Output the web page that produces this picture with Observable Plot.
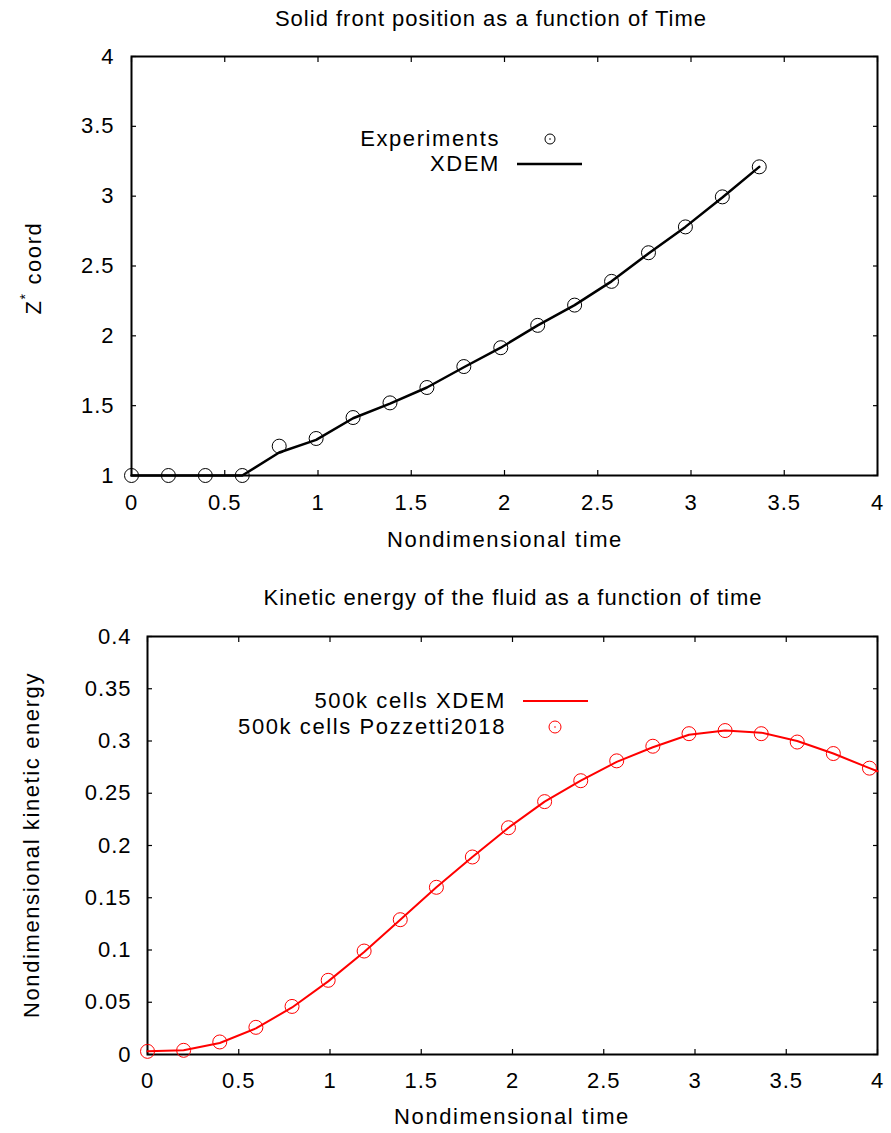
<!DOCTYPE html>
<html>
<head>
<meta charset="utf-8">
<script src="https://cdn.jsdelivr.net/npm/d3@7"></script>
<script src="https://cdn.jsdelivr.net/npm/@observablehq/plot@0.6"></script>
<style>
  html, body { margin: 0; padding: 0; background: #fff; }
  #wrap { position: relative; width: 891px; height: 1133px; font-family: "Liberation Sans", Arial, sans-serif; color: #000; }
  .t, .r, .lg { position: absolute; font-size: 22px; letter-spacing: 1.6px; line-height: 1; white-space: nowrap; }
  .t { transform: translate(-50%, -50%); }
  .t.title { letter-spacing: 1px; }
  .r { transform: translate(-50%, -50%) rotate(-90deg); }
  .lg { transform: translate(-100%, -50%); }
  svg.ov { position: absolute; left: 0; top: 0; overflow: visible; }
  #topPanel, #botPanel { position: absolute; left: 0; }
  #topPanel { top: 0; } #botPanel { top: 566px; }
  svg text { letter-spacing: 1px; }
</style>
</head>
<body>
<div id="wrap">
  <div id="topPanel"></div>
  <div id="botPanel"></div>
</div>
<script>
// ---- Top panel data ----
const expTime = [0, 0.198, 0.396, 0.594, 0.792, 0.990, 1.188, 1.386, 1.584, 1.782, 1.980, 2.178, 2.376, 2.574, 2.772, 2.970, 3.168, 3.366];
const expZ    = [1, 1, 1, 1, 1.21, 1.265, 1.415, 1.52, 1.63, 1.78, 1.915, 2.075, 2.22, 2.39, 2.595, 2.78, 2.995, 3.21];
const xdemTime = [0, 0.198, 0.396, 0.594, 0.792, 0.990, 1.188, 1.386, 1.584, 1.782, 1.980, 2.178, 2.376, 2.574, 2.772, 2.970, 3.168, 3.366];
const xdemZ    = [1, 1, 1, 1, 1.165, 1.255, 1.41, 1.515, 1.63, 1.775, 1.915, 2.075, 2.22, 2.39, 2.59, 2.78, 2.99, 3.21];

// ---- Bottom panel data ----
const pozTime = [0, 0.198, 0.396, 0.594, 0.792, 0.990, 1.187, 1.385, 1.583, 1.780, 1.978, 2.176, 2.374, 2.571, 2.769, 2.967, 3.165, 3.363, 3.560, 3.758, 3.956];
const pozE    = [0.003, 0.004, 0.012, 0.026, 0.046, 0.071, 0.099, 0.129, 0.160, 0.189, 0.217, 0.242, 0.262, 0.281, 0.295, 0.307, 0.310, 0.307, 0.299, 0.288, 0.274];
const xdemKTime = [0, 0.198, 0.396, 0.594, 0.792, 0.990, 1.187, 1.385, 1.583, 1.780, 1.978, 2.176, 2.374, 2.571, 2.769, 2.967, 3.165, 3.363, 3.560, 3.758, 3.956, 4.0];
const xdemKE    = [0.003, 0.004, 0.011, 0.025, 0.045, 0.070, 0.098, 0.129, 0.160, 0.189, 0.217, 0.242, 0.262, 0.280, 0.294, 0.306, 0.310, 0.308, 0.300, 0.288, 0.274, 0.271];

// ---- Ticks ----
const xTicks = [0, 0.5, 1, 1.5, 2, 2.5, 3, 3.5, 4];
const xTickLabels = ["0", "0.5", "1", "1.5", "2", "2.5", "3", "3.5", "4"];
const zTicks = [1, 1.5, 2, 2.5, 3, 3.5, 4];
const zTickLabels = ["1", "1.5", "2", "2.5", "3", "3.5", "4"];
const eTicks = [0, 0.05, 0.1, 0.15, 0.2, 0.25, 0.3, 0.35, 0.4];
const eTickLabels = ["0", "0.05", "0.1", "0.15", "0.2", "0.25", "0.3", "0.35", "0.4"];

// ---- Text ----
const title1 = "Solid front position as a function of Time";
const title2 = "Kinetic energy of the fluid as a function of time";
const xLabel = "Nondimensional time";
const yLabel2 = "Nondimensional kinetic energy";

const RED = "#ff0000";
const font = "'Liberation Sans', Arial, sans-serif";

const expData = expTime.map((t, i) => ({t, z: expZ[i]}));
const xdemData = xdemTime.map((t, i) => ({t, z: xdemZ[i]}));
const pozData = pozTime.map((t, i) => ({t, e: pozE[i]}));
const xdemKData = xdemKTime.map((t, i) => ({t, e: xdemKE[i]}));

function frameAxes(yTicks, yLabels, xPad, yPad) {
  return [
    Plot.axisX(xTicks, {anchor: "bottom", tickSize: -5, tickPadding: xPad, tickFormat: d => xTickLabels[xTicks.indexOf(d)], label: null, strokeWidth: 1.2}),
    Plot.axisX(xTicks, {anchor: "top", tickSize: -5, tickPadding: 0, tickFormat: () => "", label: null, strokeWidth: 1.2}),
    Plot.axisY(yTicks, {anchor: "left", tickSize: -5, tickPadding: yPad, tickFormat: d => yLabels[yTicks.indexOf(d)], label: null, strokeWidth: 1.2}),
    Plot.axisY(yTicks, {anchor: "right", tickSize: -5, tickPadding: 0, tickFormat: () => "", label: null, strokeWidth: 1.2}),
    Plot.frame({stroke: "#000", strokeWidth: 2})
  ];
}

const topChart = Plot.plot({
  width: 891, height: 566,
  marginLeft: 131, marginRight: 14, marginTop: 56, marginBottom: 91,
  x: {domain: [0, 4]},
  y: {domain: [1, 4]},
  style: {fontFamily: font, fontSize: "22px", color: "#000", background: "transparent"},
  marks: [
    ...frameAxes(zTicks, zTickLabels, 24, 22),
    Plot.line(xdemData, {x: "t", y: "z", stroke: "#000", strokeWidth: 2.5}),
    Plot.dot(expData, {x: "t", y: "z", r: 7, stroke: "#000", fill: "none", strokeWidth: 1})
  ]
});
document.getElementById("topPanel").appendChild(topChart);

const botChart = Plot.plot({
  width: 891, height: 567,
  marginLeft: 147, marginRight: 14, marginTop: 70, marginBottom: 79,
  x: {domain: [0, 4]},
  y: {domain: [0, 0.4]},
  style: {fontFamily: font, fontSize: "22px", color: "#000", background: "transparent"},
  marks: [
    ...frameAxes(eTicks, eTickLabels, 23, 21),
    Plot.line(xdemKData, {x: "t", y: "e", stroke: RED, strokeWidth: 2}),
    Plot.dot(pozData, {x: "t", y: "e", r: 7, stroke: RED, fill: "none", strokeWidth: 1})
  ]
});
document.getElementById("botPanel").appendChild(botChart);

// ---- Titles, axis labels and legends (HTML overlays) ----
const wrap = document.getElementById("wrap");
function addText(cls, txt, x, y, html) {
  const d = document.createElement("div");
  d.className = cls;
  if (html) d.innerHTML = html; else d.textContent = txt;
  d.style.left = x + "px"; d.style.top = y + "px";
  wrap.appendChild(d);
}
addText("t title", title1, 491, 19);
addText("t", xLabel, 505, 540);
addText("r", "", 33, 268, "Z<sup style='font-size:14px;position:relative;top:-3px'>*</sup> coord");
addText("t title", title2, 513, 598);
addText("t", xLabel, 512, 1117);
addText("r", yLabel2, 32, 845);

// legends
addText("lg", "Experiments", 500, 139);
addText("lg", "XDEM", 500, 164);
addText("lg", "500k cells XDEM", 506, 701);
addText("lg", "500k cells Pozzetti2018", 506, 727);

const ns = "http://www.w3.org/2000/svg";
const ov = document.createElementNS(ns, "svg");
ov.setAttribute("class", "ov");
ov.setAttribute("width", 891); ov.setAttribute("height", 1133);
ov.innerHTML = `
  <circle cx="550" cy="139" r="5" fill="none" stroke="#000" stroke-width="1"/>
  <circle cx="550" cy="139" r="0.8" fill="#000"/>
  <line x1="517" y1="164" x2="582" y2="164" stroke="#000" stroke-width="2.5"/>
  <line x1="523" y1="701" x2="588" y2="701" stroke="${RED}" stroke-width="2"/>
  <circle cx="555" cy="727" r="6" fill="none" stroke="${RED}" stroke-width="1"/>
  <circle cx="555" cy="727" r="0.8" fill="${RED}"/>
`;
wrap.appendChild(ov);
</script>
</body>
</html>
